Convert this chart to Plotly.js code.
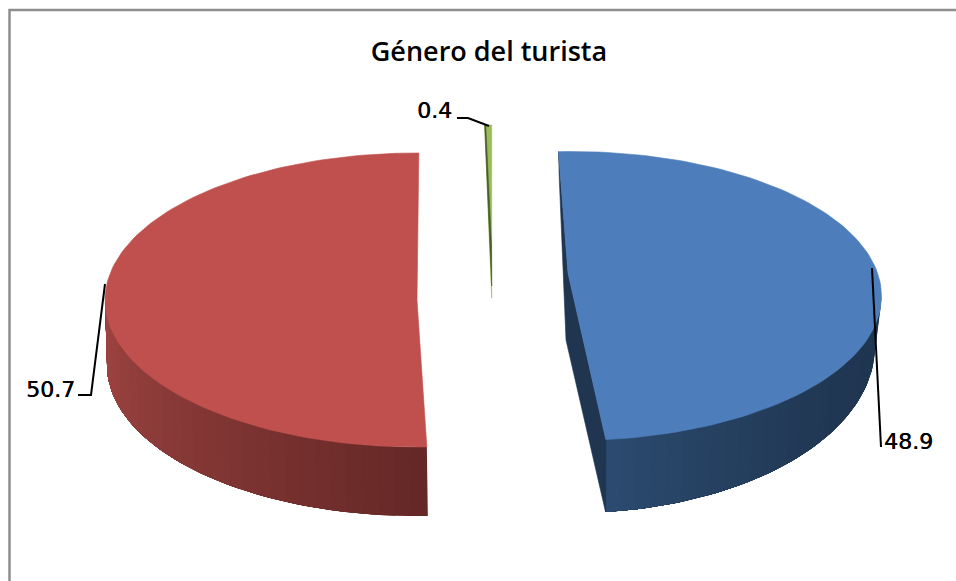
<!DOCTYPE html>
<html>
<head>
<meta charset="utf-8">
<script src="https://cdn.plot.ly/plotly-3.0.1.min.js"></script>
<style>html,body{margin:0;padding:0;background:#fff}#chart{width:956px;height:581px}</style>
</head>
<body>
<div id="chart"></div>
<script>
// Data
const categories = ["Categoría A", "Categoría B", "Categoría C"];
const percentages = [48.9, 50.7, 0.4];
const chartTitle = "Género del turista";

// Projection parameters of the tilted pie, one per slice (exploded 3-D look)
const startAngles = [-2.4, 178, -1.44];
const topColors = ["#4d7dba", "#bf504d", "#9bbb59"];
const wallColors = ["#1f3550", "#652826", "#4a5a2a"];
const topEllipses = [
  {cx: 571.5, cy: 296, a: 310, b: 144.5, apexX: 568, apexY: 273},
  {cx: 416, cy: 300, a: 311, b: 147, apexX: 417, apexY: 300},
  {cx: 491.7, cy: 298, a: 280, b: 173, apexX: 491.7, apexY: 298}
];
const lowerEllipses = [
  {cx: 572, cy: 346, a: 303, b: 167, apexX: 566, apexY: 340},
  {cx: 417, cy: 365, a: 310, b: 151, apexX: 418, apexY: 365},
  null
];
// Side-wall shading: dark colour, light colour, and the angle of the silhouette
const wallShades = [
  {dark: [31, 53, 80], light: [44, 76, 113], silhouette: 90},
  {dark: [101, 40, 38], light: [162, 70, 68], silhouette: 270}
];
// Leader lines, in chart units
const leaderX = [[872, 881], [105, 91, 78], [489, 468, 457]];
const leaderY = [[268, 447], [284, 395, 395], [126, 118, 118]];
const labelX = [884, 75, 452];
const labelY = [441, 389, 110];
const labelAnchor = ["left", "right", "right"];

const rad = d => d * Math.PI / 180;
const pt = (e, deg) => [e.cx + e.a * Math.sin(rad(deg)), e.cy - e.b * Math.cos(rad(deg))];
const arc = (e, d0, d1) => {
  const n = Math.max(2, Math.ceil(Math.abs(d1 - d0) / 1.5));
  const out = [];
  for (let i = 0; i <= n; i++) out.push(pt(e, d0 + (d1 - d0) * i / n));
  return out;
};
const poly = (points, color, name, width) => ({
  type: "scatter", mode: "lines", fill: "toself", fillcolor: color,
  x: points.map(p => p[0]).concat([points[0][0]]),
  y: points.map(p => p[1]).concat([points[0][1]]),
  line: {color: color, width: width === undefined ? 0.6 : width},
  hoverinfo: "skip", showlegend: false, name: name
});

const traces = [];
percentages.forEach((v, i) => {
  const sweep = v / 100 * 360;
  const s = startAngles[i], e = s + sweep;
  const top = topEllipses[i], low = lowerEllipses[i];
  const apex = [top.apexX, top.apexY];
  if (low) {
    const shade = wallShades[i];
    // visible arc of the outer wall of this slice
    const from = i === 0 ? shade.silhouette : s;
    const to = i === 0 ? e : shade.silhouette;
    const step = 3;
    // each band runs to the far end, so the next one paints over it with no seam
    for (let a = from; a < to; a += step) {
      const t = (a - from) / (to - from);
      const w = i === 0 ? Math.pow(t, 2.2) : t;
      const mix = shade.dark.map((c, k) => Math.round(c + (shade.light[k] - c) * w));
      traces.push(poly(arc(top, a, to).concat(arc(low, to, a)), `rgb(${mix.join(",")})`, categories[i], 0));
    }
    if (i === 0) {
      // cut face visible along the start edge of this slice
      traces.push(poly([pt(top, s), pt(low, s), [low.apexX, low.apexY], pt(low, e), pt(top, e), apex], wallColors[i], categories[i]));
    }
  }
  // top face
  traces.push(poly([apex].concat(arc(top, s, e)), topColors[i], categories[i]));
  if (!low) {
    // thin dark cut face on the sliver
    const st = pt(top, s), en = pt(top, e);
    const mid = [st[0] + (en[0] - st[0]) * 0.15, st[1] + (en[1] - st[1]) * 0.15];
    const inner = [apex[0] - 0.2, apex[1] - top.b * 0.3];
    traces.push(poly([st, mid, inner, [apex[0], apex[1] - 12], st], wallColors[i], categories[i]));
  }
});

// Leader lines
percentages.forEach((v, i) => traces.push({
  type: "scatter", mode: "lines", x: leaderX[i], y: leaderY[i],
  line: {color: "#000", width: 2}, hoverinfo: "skip", showlegend: false
}));

const axis = {visible: false, fixedrange: true};
const layout = {
  width: 956, height: 581,
  margin: {l: 0, r: 0, t: 0, b: 0, pad: 0},
  paper_bgcolor: "#fff", plot_bgcolor: "#fff",
  showlegend: false,
  xaxis: Object.assign({range: [0, 956]}, axis),
  yaxis: Object.assign({range: [581, 0]}, axis),
  title: {
    text: chartTitle, x: 489 / 956, xanchor: "center", y: 1 - 52 / 581, yanchor: "middle",
    font: {family: "'Open Sans', sans-serif", size: 27, color: "#000", weight: 600}
  },
  shapes: [{
    type: "path", xref: "x", yref: "y",
    path: "M 9.5 590 L 9.5 10 L 970 10",
    line: {color: "#8e8e8e", width: 2.5}
  }],
  annotations: percentages.map((v, i) => ({
    xref: "x", yref: "y", x: labelX[i], y: labelY[i],
    xanchor: labelAnchor[i], yanchor: "middle", showarrow: false,
    text: v.toFixed(1), borderpad: 0, borderwidth: 0,
    font: {family: "'DejaVu Sans', sans-serif", size: 22, color: "#000", shadow: "0.6px 0 0 #000"}
  }))
};
Plotly.newPlot("chart", traces, layout, {displayModeBar: false, staticPlot: true});
</script>
</body>
</html>
